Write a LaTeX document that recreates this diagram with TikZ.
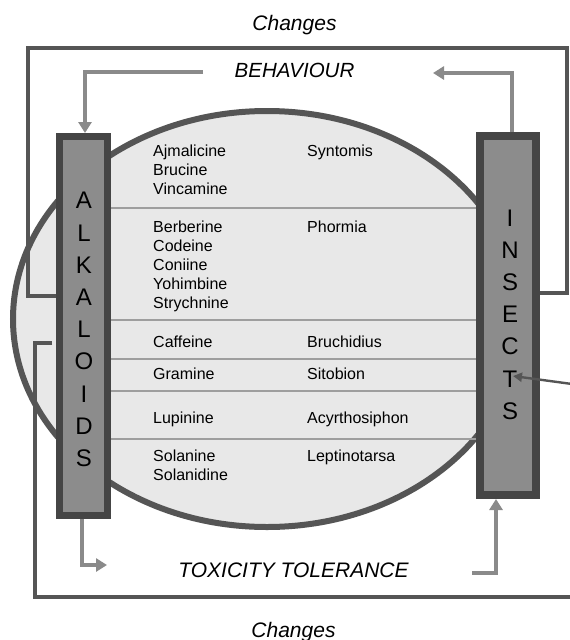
\documentclass[tikz,border=0pt]{standalone}
\usepackage{fontspec}
\setmainfont{Liberation Sans}
\usetikzlibrary{arrows.meta,shapes.geometric}
\definecolor{frameC}{HTML}{555555}
\definecolor{ovalFill}{HTML}{E8E8E8}
\definecolor{boxOut}{HTML}{454545}
\definecolor{boxIn}{HTML}{8C8C8C}
\definecolor{sepC}{HTML}{9E9E9E}
\definecolor{arrC}{HTML}{8A8A8A}
\begin{document}
\begin{tikzpicture}[x=1pt,y=-1pt,
  frameline/.style={draw=frameC,line width=3.2pt},
  greyarrow/.style={draw=arrC,line width=4pt,-{Triangle[length=11pt,width=13pt]}},
  seprow/.style={draw=sepC,line width=1.4pt},
  colbox/.style={rectangle,draw=boxOut,fill=boxIn,inner sep=0pt},
  bigletters/.style={font=\fontsize{24}{32.2}\selectfont,align=center,inner sep=0pt},
  listtext/.style={font=\fontsize{16}{19}\selectfont,align=left,anchor=base west,inner sep=0pt},
  bigtitle/.style={font=\fontsize{21}{25}\selectfont\itshape,anchor=base,inner sep=0pt}]
\useasboundingbox (0,0) rectangle (570,640);
\fill[white] (0,0) rectangle (570,640);

% titles
\node[bigtitle] (chtop) at (294.5,30) {Changes};
\node[bigtitle,font=\fontsize{20.5}{25}\selectfont\itshape] (beh) at (294.5,77) {BEHAVIOUR};
\node[bigtitle] (tox) at (293.5,577) {TOXICITY TOLERANCE};
\node[bigtitle] (chbot) at (293.5,637) {Changes};

% oval
\node[ellipse,draw=frameC,fill=ovalFill,line width=6pt,minimum width=508pt,minimum height=416pt,inner sep=0pt] (oval) at (267,319) {};

% boxes
\node[colbox,line width=7pt,minimum width=48pt,minimum height=379pt] (alk) at (83.5,326) {};
\node[colbox,line width=8pt,minimum width=56pt,minimum height=359pt] (ins) at (508,315.5) {};
\node[bigletters] (alktxt) at (84,329.5) {A\\L\\K\\A\\L\\O\\I\\D\\S};
\node[bigletters] (instxt) at (510,314.5) {I\\N\\S\\E\\C\\T\\S};

% row separators
\foreach \yy in {208,320,359,391,439}
  \draw[seprow] (alk.east |- 0,\yy) -- (ins.west |- 0,\yy);

% list texts (anchor = baseline of last line)
\node[listtext] (g1) at (153,194) {Ajmalicine\\Brucine\\Vincamine};
\node[listtext] (g2) at (153,308) {Berberine\\Codeine\\Coniine\\Yohimbine\\Strychnine};
\node[listtext] (g3) at (153,347) {Caffeine};
\node[listtext] (g4) at (153,379) {Gramine};
\node[listtext] (g5) at (153,423) {Lupinine};
\node[listtext] (g6) at (153,480) {Solanine\\Solanidine};
\node[listtext] (h1) at (307,156) {Syntomis};
\node[listtext] (h2) at (307,232) {Phormia};
\node[listtext] (h3) at (307,347) {Bruchidius};
\node[listtext] (h4) at (307,379) {Sitobion};
\node[listtext] (h5) at (307,423) {Acyrthosiphon};
\node[listtext] (h6) at (307,461) {Leptinotarsa};

% frame lines
\draw[frameline] (alk.west |- 0,296) -- (28,296) -- (28,48) -- (567,48) -- (567,293) -- (ins.east |- 0,293);
\coordinate (bstart) at (52,343);
\coordinate (bend) at (570,597);
\draw[frameline] (bstart) -- (35,343) -- (35,597) -- (bend);

% grey arrows
\coordinate (behL) at (203,72);
\coordinate (behR) at (433,73);
\coordinate (toxL) at (107,565);
\coordinate (toxR) at (472,573);
\draw[greyarrow] (behL) -- (85,72) -- (alk.north -| 85,0);
\draw[greyarrow] (ins.north -| 512,0) -- (512,73) -- (behR);
\draw[greyarrow] (alk.south -| 82,0) -- (82,565) -- (toxL);
\draw[greyarrow] (toxR) -- (496,573) -- (ins.south -| 496,0);

% arrow into insects
\coordinate (rin) at (572,384);
\draw[draw=frameC,line width=2.4pt,-{Triangle[length=9pt,width=9pt]}] (rin) -- (513,376);
\end{tikzpicture}
\end{document}
